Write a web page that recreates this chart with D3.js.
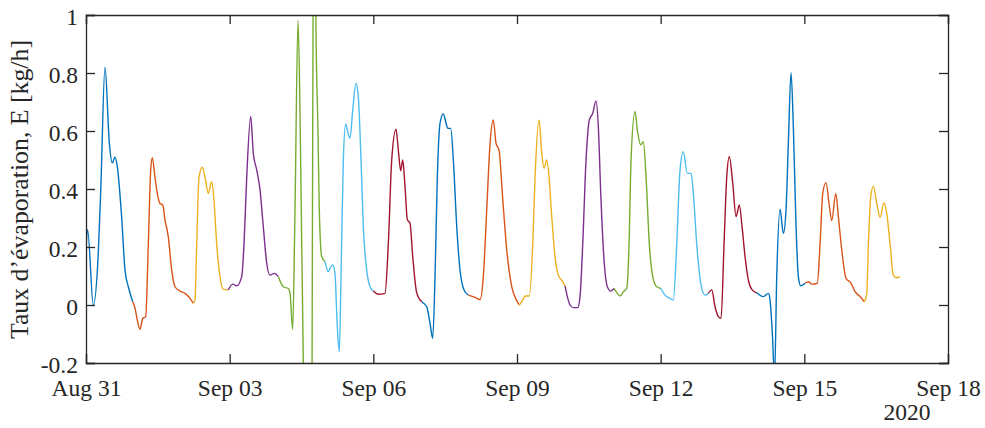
<!DOCTYPE html>
<html>
<head>
<meta charset="utf-8">
<script src="https://cdn.jsdelivr.net/npm/d3@7"></script>
<style>
  html, body { margin: 0; padding: 0; background: #ffffff; }
  svg { display: block; }
  svg text { font-family: "Liberation Serif", Tinos, "Times New Roman", Times, serif; fill: #262626; }
</style>
</head>
<body>
<svg id="chart" width="985" height="428"></svg>
<script>
// ---- DATA (hours since 2020-08-31 00:00, evaporation rate kg/h) ----
const startDate = Date.UTC(2020, 7, 31);
const endDate = Date.UTC(2020, 8, 18);
const yTicks = [-0.2, 0, 0.2, 0.4, 0.6, 0.8, 1];
const yTickLabels = ["-0.2", "0", "0.2", "0.4", "0.6", "0.8", "1"];
const xTickDays = [0, 3, 6, 9, 12, 15, 18];
const xTickLabels = ["Aug 31", "Sep 03", "Sep 06", "Sep 09", "Sep 12", "Sep 15", "Sep 18"];
const yearLabel = "2020";
const yLabel = "Taux d\u2019\u00e9vaporation, E [kg/h]";
const colors = ["#0072BD", "#D95319", "#EDB120", "#7E2F8E", "#77AC30", "#4DBEEE", "#A2142F"];

const aug31 = [[0,0.20],[0.8,0.26],[3.66,0.00],[6.16,0.18],[7.37,0.39],[9.52,0.82],[11.68,0.56],[13.18,0.49],[14.53,0.51],[15.69,0.477],[17.89,0.30],[19.55,0.12],[21.2,0.063],[23.41,0.011]];
const sep01 = [[23.41,0.011],[24.56,-0.011],[25.71,-0.052],[27.06,-0.084],[28.42,-0.046],[29.92,-0.04],[31.23,0.21],[32.43,0.466],[33.23,0.508],[34.58,0.44],[35.74,0.385],[37.09,0.35],[38.44,0.345],[39.59,0.293],[41.25,0.235],[42.95,0.12],[44.61,0.063],[47.11,0.048],[49.62,0.04],[52.12,0.023],[53.78,0.006]];
const sep02 = [[53.78,0.006],[54.63,0.017],[55.48,0.21],[56.63,0.44],[58.29,0.475],[59.64,0.44],[61.29,0.385],[62.99,0.425],[64.14,0.362],[65.5,0.21],[67.15,0.098],[68.81,0.054],[71.32,0.052]];
const sep03 = [[71.32,0.052],[73.52,0.072],[75.53,0.066],[78.04,0.098],[79.19,0.21],[80.54,0.44],[82.55,0.65],[83.85,0.523],[85.55,0.466],[87.21,0.397],[88.86,0.27],[90.57,0.144],[92.22,0.103],[94.37,0.109],[96.38,0.098]];
const sep04 = [[96.38,0.098],[98.89,0.063],[101.39,0.057],[102.25,0.04],[103.59,-0.084],[104.74,0.328],[106.25,0.98],[107.25,0.67],[108.1,0.21],[109.0,-0.25],[110.25,-1.5],[111.76,-2.0],[113.01,-1.0],[114.01,1.5],[114.51,1.6],[115.26,0.95],[116.26,0.6],[116.91,0.33],[118.13,0.167],[119.78,0.15]];
const sep05 = [[119.78,0.15],[121.44,0.115],[122.29,0.126],[123.64,0.138],[124.79,0.107],[125.94,-0.075],[126.95,-0.161],[127.8,0.098],[128.96,0.5],[130.16,0.624],[130.96,0.603],[132.32,0.575],[133.67,0.672],[135.32,0.764],[136.47,0.718],[137.83,0.5],[138.98,0.27],[140.68,0.12],[142.34,0.063],[143.99,0.048]];
const sep06 = [[143.99,0.048],[146.5,0.037],[149.85,0.04],[151.51,0.21],[153.21,0.5],[155.37,0.606],[156.52,0.534],[157.72,0.463],[158.73,0.5],[159.88,0.408],[161.03,0.295],[162.39,0.282],[163.74,0.167],[165.74,0.042],[168.25,0.011]];
const sep07 = [[168.25,0.011],[170.76,-0.006],[172.41,-0.063],[173.77,-0.115],[174.92,0.098],[176.07,0.44],[177.43,0.627],[179.08,0.659],[180.44,0.627],[181.29,0.609],[182.79,0.609],[184.1,0.5],[185.8,0.27],[187.45,0.12],[189.46,0.052],[191.61,0.034]];
const sep08 = [[191.61,0.034],[194.97,0.026],[197.47,0.019],[199.13,0.098],[200.83,0.328],[202.49,0.557],[204.14,0.638],[205.5,0.557],[207.0,0.534],[208.65,0.385],[210.86,0.19],[213.36,0.063],[215.87,0.015],[217.17,0.0]];
const sep09 = [[217.17,0.0],[218.88,0.017],[220.03,0.031],[222.18,0.031],[223.89,0.21],[225.04,0.44],[227.04,0.638],[228.4,0.523],[229.55,0.471],[230.9,0.5],[232.06,0.442],[233.41,0.305],[235.06,0.167],[236.72,0.103],[238.92,0.08],[240.07,0.066]];
const sep10 = [[240.07,0.066],[241.23,0.029],[242.58,0.0],[244.23,-0.009],[246.44,-0.009],[247.59,0.029],[248.94,0.21],[250.6,0.5],[252.25,0.638],[253.96,0.661],[255.61,0.704],[256.76,0.615],[257.97,0.385],[259.62,0.155],[261.28,0.063],[262.98,0.048],[264.63,0.057]];
const sep11 = [[264.63,0.057],[266.28,0.04],[267.64,0.031],[269.29,0.046],[271.0,0.057],[272.15,0.21],[273.15,0.5],[275.16,0.667],[276.31,0.603],[278.01,0.552],[279.31,0.563],[280.67,0.442],[282.32,0.21],[284.02,0.098],[286.03,0.063],[288.18,0.057]];
const sep12 = [[288.18,0.057],[290.19,0.034],[292.7,0.023],[294.35,0.017],[296.05,0.21],[297.71,0.466],[299.36,0.529],[301.37,0.454],[303.22,0.454],[304.38,0.385],[306.08,0.21],[308.08,0.075],[310.24,0.034],[311.89,0.04]];
const sep13 = [[311.89,0.04],[313.6,0.052],[315.25,-0.006],[316.9,-0.04],[318.26,-0.046],[319.76,0.21],[321.12,0.442],[322.42,0.511],[324.12,0.42],[325.78,0.305],[327.43,0.345],[328.79,0.27],[330.29,0.167],[331.95,0.086],[333.65,0.054],[336.15,0.042]];
const sep14 = [[336.15,0.042],[339.46,0.029],[341.96,0.04],[342.82,0.017],[343.97,-0.098],[345.07,-0.25],[346.17,0.098],[347.83,0.33],[349.48,0.247],[350.83,0.328],[351.99,0.557],[353.34,0.801],[354.49,0.615],[355.85,0.27],[357.0,0.098],[358.2,0.066],[360.36,0.075]];
const sep15 = [[360.36,0.075],[362.01,0.08],[363.72,0.072],[366.52,0.075],[367.88,0.21],[369.23,0.385],[370.88,0.422],[372.39,0.35],[373.74,0.291],[375.75,0.385],[377.05,0.305],[378.76,0.19],[380.91,0.092],[383.27,0.077],[385.43,0.046],[387.93,0.029],[390.09,0.011]];
const sep16 = [[390.09,0.011],[391.29,0.04],[392.1,0.21],[393.3,0.374],[394.61,0.41],[396.31,0.35],[397.96,0.302],[399.97,0.353],[401.32,0.316],[402.97,0.21],[404.63,0.103],[406.33,0.094],[407.98,0.098]];

const series = [aug31, sep01, sep02, sep03, sep04, sep05, sep06, sep07, sep08, sep09, sep10, sep11, sep12, sep13, sep14, sep15, sep16];

// ---- LAYOUT ----
const svg = d3.select("#chart");
const W = 985, H = 428;
const m = { left: 86, right: 37, top: 15, bottom: 65 };
const x0 = m.left, x1 = W - m.right, y0 = m.top, y1 = H - m.bottom;
const FONT = "'Liberation Serif', Tinos, 'Times New Roman', Times, serif";

const x = d3.scaleUtc().domain([new Date(startDate), new Date(endDate)]).range([x0, x1]);
const y = d3.scaleLinear().domain([-0.2, 1]).range([y1, y0]);
const hourToDate = h => new Date(startDate + h * 3600e3);

const axisColor = "#262626";
const tickLen = 9;

svg.append("defs").append("clipPath").attr("id", "plotclip")
  .append("rect").attr("x", x0).attr("y", y0).attr("width", x1 - x0).attr("height", y1 - y0);

// lines
const line = d3.line()
  .x(d => x(hourToDate(d[0])))
  .y(d => y(d[1]))
  .curve(d3.curveMonotoneX);

svg.append("g").attr("clip-path", "url(#plotclip)")
  .selectAll("path").data(series).join("path")
  .attr("d", d => line(d))
  .attr("fill", "none")
  .attr("stroke", (d, i) => colors[i % colors.length])
  .attr("stroke-width", 1.4)
  .attr("stroke-linejoin", "round");

// axes (MATLAB-style box with inward ticks)
const xTickDates = xTickDays.map(d => new Date(startDate + d * 86400e3));
const fs = 23.5;
const fsLabel = 25.8;

const gxb = svg.append("g").attr("transform", `translate(0,${y1})`)
  .call(d3.axisBottom(x).tickValues(xTickDates).tickSize(-tickLen).tickPadding(16)
    .tickFormat((d, i) => xTickLabels[i]));
const gxt = svg.append("g").attr("transform", `translate(0,${y0})`)
  .call(d3.axisTop(x).tickValues(xTickDates).tickSize(-tickLen).tickFormat(""));
const gyl = svg.append("g").attr("transform", `translate(${x0},0)`)
  .call(d3.axisLeft(y).tickValues(yTicks).tickSize(-tickLen).tickPadding(8)
    .tickFormat((d, i) => yTickLabels[i]));
const gyr = svg.append("g").attr("transform", `translate(${x1},0)`)
  .call(d3.axisRight(y).tickValues(yTicks).tickSize(-tickLen).tickFormat(""));

[gxb, gxt, gyl, gyr].forEach(g => {
  g.attr("font-family", FONT);
  g.select(".domain").attr("stroke", axisColor).attr("stroke-width", 1.3);
  g.selectAll(".tick line").attr("stroke", axisColor).attr("stroke-width", 1.3);
  g.selectAll("text").attr("font-size", fs).attr("fill", axisColor).attr("font-family", FONT);
});
gyl.selectAll("text").attr("dy", "0.4em");

// year label
svg.append("text")
  .attr("x", x(new Date(endDate)) - 41)
  .attr("y", y1 + 57)
  .attr("text-anchor", "middle")
  .attr("font-family", FONT)
  .attr("font-size", fs)
  .text(yearLabel);

// y label
svg.append("text")
  .attr("transform", `translate(28,189.5) rotate(-90)`)
  .attr("text-anchor", "middle")
  .attr("font-family", FONT)
  .attr("font-size", fsLabel)
  .text(yLabel);
</script>
</body>
</html>
